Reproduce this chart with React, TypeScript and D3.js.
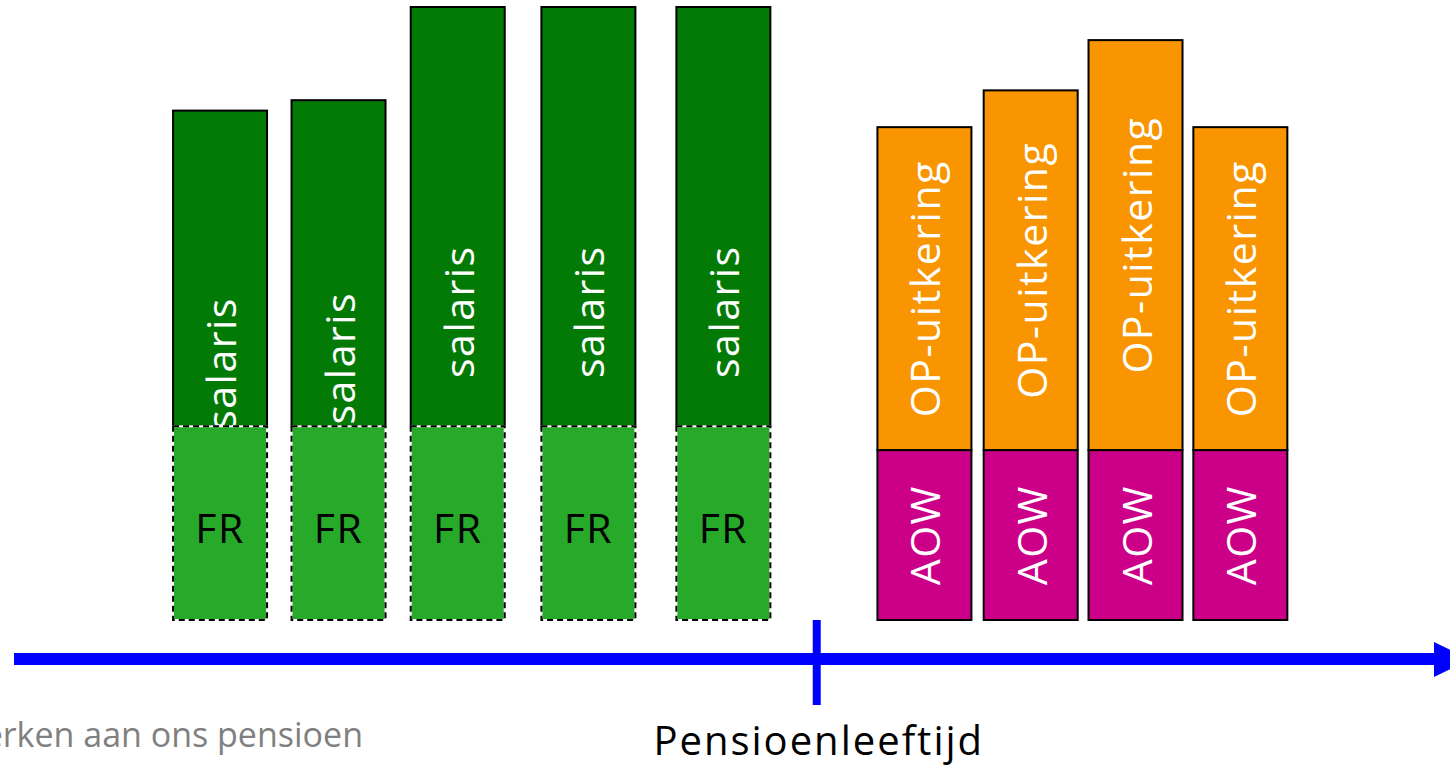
import React from "react";
import * as d3 from "d3";

// working years (before retirement): position on the time axis + segment sizes
const workMoments = [14.35, 22.6, 30.9, 40.0, 49.4];
const salarisValues = [51.5, 53.2, 68.4, 68.4, 68.4];
const frValues = [31.6, 31.6, 31.6, 31.6, 31.6];

// retirement years
const pensionMoments = [63.4, 70.8, 78.1, 85.4];
const aowValues = [27.7, 27.7, 27.7, 27.7];
const opValues = [52.7, 58.7, 66.9, 52.7];

const retirementMoment = 55.9;
const axisLabel = "Pensioenleeftijd";
const footerText = "Werken aan ons pensioen";

const W = 1450;
const H = 765;
const baseY = 620;
const barW = 94;
const font = "'Open Sans', 'Noto Sans', sans-serif";
const labelSize = 41;
const labelSpacing = 1.5;

const App = () => {
  const x = d3.scaleLinear().domain([0, 100]).range([14, 1450]);
  const y = d3.scaleLinear().domain([0, 100]).range([baseY, 7]);
  const h = (v: number) => baseY - y(v);
  const axisY = 659;

  const vLabel = (cx: number, cy: number, txt: string) => (
    <text
      transform={`translate(${cx},${cy}) rotate(-90)`}
      textAnchor="middle"
      dominantBaseline="central"
      fill="#fff"
      fontFamily={font}
      fontSize={labelSize}
      letterSpacing={labelSpacing}
    >
      {txt}
    </text>
  );

  return (
    <div style={{ position: "fixed", left: 0, top: 0, width: W, height: H, background: "#fff" }}>
      <svg width={W} height={H} style={{ display: "block" }}>
        {/* working period */}
        {workMoments.map((t, i) => {
          const x0 = x(t) - barW / 2;
          const frTop = y(frValues[i]);
          const salTop = y(frValues[i] + salarisValues[i]);
          const salMid = (salTop + frTop) / 2 + 95;
          return (
            <g key={"w" + i}>
              <rect x={x0} y={salTop} width={barW} height={h(salarisValues[i])} fill="#037A05" stroke="#000" strokeWidth={2} />
              {vLabel(x0 + barW / 2, salMid, "salaris")}
              <rect x={x0} y={frTop} width={barW} height={h(frValues[i])} fill="#27AA2A" stroke="#fff" strokeWidth={2} />
              <rect x={x0} y={frTop} width={barW} height={h(frValues[i])} fill="none" stroke="#000" strokeWidth={2} strokeDasharray="6 4" />
              <text
                x={x0 + barW / 2}
                y={(frTop + baseY) / 2 + 4}
                textAnchor="middle"
                dominantBaseline="central"
                fill="#000"
                fontFamily={font}
                fontSize={labelSize}
                letterSpacing={labelSpacing}
              >
                FR
              </text>
            </g>
          );
        })}

        {/* retirement period */}
        {pensionMoments.map((t, i) => {
          const x0 = x(t) - barW / 2;
          const aowTop = y(aowValues[i]);
          const opTop = y(aowValues[i] + opValues[i]);
          return (
            <g key={"p" + i}>
              <rect x={x0} y={opTop} width={barW} height={h(opValues[i])} fill="#F89500" stroke="#000" strokeWidth={2} />
              <rect x={x0} y={aowTop} width={barW} height={h(aowValues[i])} fill="#CC0088" stroke="#000" strokeWidth={2} />
              {vLabel(x0 + barW / 2, (opTop + aowTop) / 2, "OP-uitkering")}
              {vLabel(x0 + barW / 2, (aowTop + baseY) / 2, "AOW")}
            </g>
          );
        })}

        {/* time axis */}
        <line x1={x(0)} x2={1436} y1={axisY} y2={axisY} stroke="#0000FF" strokeWidth={12} />
        <polygon points={`1434,642 1434,677 1470,${axisY + 0.5}`} fill="#0000FF" />
        <line x1={x(retirementMoment)} x2={x(retirementMoment)} y1={620} y2={705} stroke="#0000FF" strokeWidth={8} />
        <text x={x(retirementMoment) + 2} y={755} textAnchor="middle" fontFamily={font} fontSize={40} letterSpacing={2} fill="#000">
          {axisLabel}
        </text>

        <text x={363} y={747} textAnchor="end" fontFamily={font} fontSize={34} fill="#808080">
          {footerText}
        </text>
      </svg>
    </div>
  );
};

export default App;
